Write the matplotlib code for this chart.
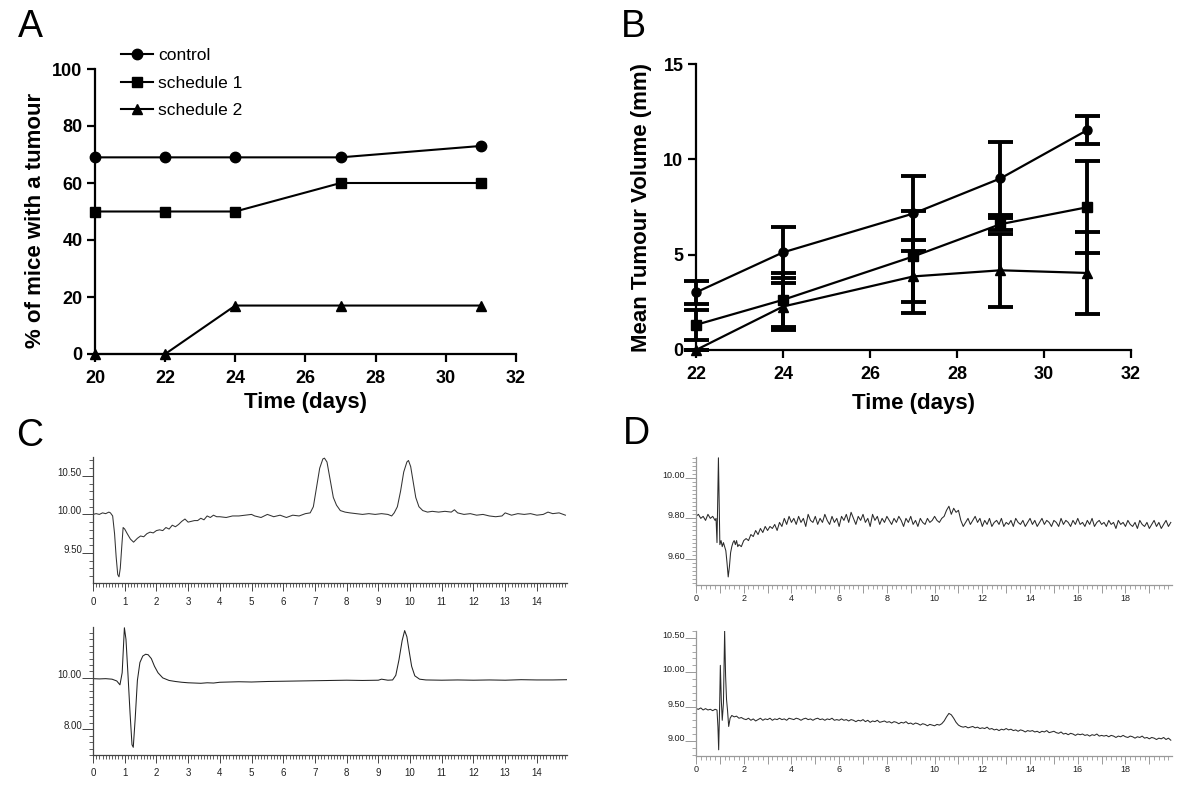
import numpy as np
import matplotlib
matplotlib.use('Agg')
import matplotlib.pyplot as plt
from matplotlib.ticker import MultipleLocator, FormatStrFormatter

plt.rcParams['font.family'] = ['Liberation Sans', 'DejaVu Sans']

# ---- panel A: % of mice with a tumour
days_a = [20, 22, 24, 27, 31]
control = [69, 69, 69, 69, 73]
schedule1 = [50, 50, 50, 60, 60]
schedule2 = [0, 0, 17, 17, 17]

# ---- panel B: mean tumour volume with error bars
days_b = [22, 24, 27, 29, 31]
vol_control = [3.02, 5.12, 7.16, 9.00, 11.54]
err_control = [0.61, 1.32, 1.96, 1.93, 0.71]
vol_s1 = [1.32, 2.63, 4.91, 6.60, 7.49]
err_s1 = [0.80, 1.40, 2.40, 0.30, 2.40]
vol_s2 = [0.00, 2.28, 3.86, 4.18, 4.04]
err_s2 = [0.00, 1.22, 1.90, 1.90, 2.17]

# ---- panel C: chromatograms (time in min, signal)
c1_t = [0.0, 0.1, 0.2, 0.3, 0.4, 0.5, 0.55, 0.62, 0.68, 0.73, 0.78, 0.82, 0.86, 0.91, 0.95,
        1.0, 1.08, 1.18, 1.28, 1.4, 1.5, 1.6, 1.7, 1.8, 1.9, 2.0, 2.1, 2.2, 2.3, 2.4, 2.5,
        2.6, 2.7, 2.8, 2.9, 3.0, 3.1, 3.2, 3.3, 3.4, 3.5, 3.6, 3.7, 3.8, 3.9, 4.0, 4.2, 4.4,
        4.6, 4.8, 5.0, 5.1, 5.3, 5.5, 5.7, 5.9, 6.1, 6.3, 6.5, 6.7, 6.85, 6.95, 7.05, 7.15,
        7.25, 7.3, 7.38, 7.48, 7.58, 7.68, 7.8, 7.95, 8.1, 8.3, 8.5, 8.7, 8.9, 9.1, 9.3, 9.42,
        9.5, 9.6, 9.7, 9.8, 9.9, 9.95, 10.02, 10.1, 10.18, 10.28, 10.4, 10.55, 10.7, 10.9,
        11.1, 11.3, 11.4, 11.5, 11.7, 11.9, 12.1, 12.3, 12.5, 12.7, 12.9, 13.0, 13.2, 13.4,
        13.6, 13.8, 14.0, 14.2, 14.35, 14.5, 14.7, 14.9]
c1_y = [10.00, 10.01, 10.00, 10.02, 10.01, 10.03, 10.02, 9.98, 9.75, 9.45, 9.22, 9.19, 9.30,
        9.60, 9.83, 9.81, 9.75, 9.68, 9.64, 9.69, 9.72, 9.71, 9.75, 9.77, 9.76, 9.79, 9.80,
        9.79, 9.83, 9.81, 9.86, 9.84, 9.87, 9.91, 9.94, 9.90, 9.91, 9.92, 9.92, 9.95, 9.93,
        9.98, 9.96, 9.99, 9.97, 9.97, 9.96, 9.98, 9.98, 9.99, 10.00, 9.98, 9.96, 10.00, 9.97,
        9.99, 9.96, 9.99, 9.98, 10.01, 10.02, 10.10, 10.35, 10.60, 10.72, 10.73, 10.68, 10.45,
        10.22, 10.12, 10.05, 10.03, 10.02, 10.01, 10.00, 10.01, 10.00, 10.01, 10.00, 9.98,
        10.02, 10.10, 10.30, 10.55, 10.68, 10.70, 10.62, 10.42, 10.22, 10.10, 10.05, 10.03,
        10.04, 10.03, 10.04, 10.03, 10.06, 10.02, 10.00, 10.01, 9.99, 10.00, 9.98, 9.97, 9.98,
        10.02, 9.99, 10.01, 10.00, 10.01, 9.99, 10.00, 10.03, 10.01, 10.02, 9.99]

c2_t = [0.0, 0.2, 0.4, 0.6, 0.75, 0.85, 0.92, 0.96, 0.99, 1.04, 1.1, 1.17, 1.23, 1.27, 1.33,
        1.4, 1.48, 1.57, 1.66, 1.74, 1.84, 1.94, 2.05, 2.2, 2.4, 2.6, 2.8, 3.0, 3.2, 3.4, 3.6,
        3.8, 4.0, 4.3, 4.6, 5.0, 5.5, 6.0, 6.5, 7.0, 7.5, 8.0, 8.5, 9.0, 9.1, 9.3, 9.45, 9.55,
        9.65, 9.75, 9.83, 9.9, 9.97, 10.05, 10.15, 10.3, 10.5, 11.0, 11.5, 12.0, 12.5, 13.0,
        13.5, 14.0, 14.5, 14.95]
c2_y = [9.97, 9.96, 9.97, 9.95, 9.88, 9.73, 10.2, 11.2, 11.95, 11.5, 10.2, 8.6, 7.4, 7.3, 8.4,
        9.9, 10.6, 10.85, 10.92, 10.9, 10.75, 10.45, 10.2, 10.0, 9.9, 9.86, 9.83, 9.81, 9.80,
        9.79, 9.81, 9.80, 9.83, 9.84, 9.85, 9.84, 9.86, 9.87, 9.88, 9.89, 9.90, 9.91, 9.90,
        9.91, 9.95, 9.91, 9.92, 10.1, 10.7, 11.45, 11.84, 11.6, 11.05, 10.45, 10.08, 9.95,
        9.92, 9.91, 9.92, 9.91, 9.92, 9.91, 9.93, 9.92, 9.92, 9.93]

# ---- panel D: chromatograms, sharp solvent front then noisy baseline
d1_t = [0.0, 0.1, 0.2, 0.3, 0.4, 0.5, 0.6, 0.7, 0.8, 0.84, 0.88, 0.94, 0.97, 1.0, 1.05, 1.1,
        1.15, 1.2, 1.25, 1.3, 1.35, 1.4, 1.45, 1.5, 1.55, 1.6, 1.65, 1.7, 1.75, 1.8, 1.9, 2.0,
        2.1, 2.2, 2.3, 2.4, 2.5, 2.6, 2.7, 2.8, 2.9, 3.0, 3.1, 3.2, 3.3, 3.4, 3.5, 3.6, 3.7,
        3.8, 3.9, 4.0]
d1_y = [9.81, 9.82, 9.80, 9.81, 9.79, 9.82, 9.80, 9.81, 9.79, 9.80, 9.68, 10.10, 9.90, 9.67,
        9.69, 9.66, 9.68, 9.66, 9.64, 9.58, 9.51, 9.56, 9.63, 9.66, 9.68, 9.69, 9.67, 9.69,
        9.66, 9.67, 9.66, 9.69, 9.70, 9.69, 9.72, 9.71, 9.74, 9.72, 9.75, 9.73, 9.76, 9.74,
        9.76, 9.75, 9.77, 9.74, 9.78, 9.76, 9.80, 9.77, 9.81, 9.78]
# 4.1 min onwards, every 0.1 min
d1_tail = [9.80, 9.77, 9.81, 9.78, 9.80, 9.76, 9.82, 9.79, 9.78, 9.81,
           9.77, 9.80, 9.78, 9.82, 9.79, 9.77, 9.81, 9.78, 9.80, 9.76,
           9.81, 9.79, 9.82, 9.78, 9.83, 9.80, 9.77, 9.81, 9.79, 9.82,
           9.78, 9.80, 9.76, 9.82, 9.79, 9.81, 9.77, 9.80, 9.78, 9.81,
           9.79, 9.77, 9.80, 9.78, 9.81, 9.79, 9.76, 9.80, 9.78, 9.81,
           9.77, 9.79, 9.76, 9.80, 9.78, 9.77, 9.80, 9.78, 9.79, 9.81,
           9.79, 9.78, 9.80, 9.81, 9.84, 9.86, 9.82, 9.85, 9.83, 9.84,
           9.79, 9.76, 9.78, 9.80, 9.77, 9.79, 9.81, 9.78, 9.80, 9.76,
           9.79, 9.77, 9.80, 9.76, 9.78, 9.79, 9.77, 9.80, 9.76, 9.78,
           9.77, 9.79, 9.76, 9.80, 9.78, 9.77, 9.79, 9.76, 9.78, 9.80,
           9.77, 9.79, 9.76, 9.78, 9.80, 9.77, 9.79, 9.78, 9.76, 9.79,
           9.78, 9.76, 9.80, 9.77, 9.79, 9.78, 9.76, 9.79, 9.77, 9.80,
           9.77, 9.78, 9.76, 9.79, 9.77, 9.80, 9.76, 9.78, 9.79, 9.77,
           9.78, 9.76, 9.79, 9.77, 9.78, 9.75, 9.79, 9.77, 9.78, 9.76,
           9.79, 9.77, 9.76, 9.78, 9.75, 9.79, 9.77, 9.76, 9.78, 9.75,
           9.77, 9.79, 9.76, 9.78, 9.75, 9.77, 9.79, 9.76, 9.78]

d2_t = [0.0, 0.1, 0.2, 0.3, 0.4, 0.5, 0.6, 0.7, 0.8, 0.88, 0.92, 0.95, 0.99, 1.02, 1.06, 1.1,
        1.15, 1.2, 1.24, 1.28, 1.32, 1.37, 1.43, 1.5, 1.6, 1.7, 1.8, 1.9, 2.0]
d2_y = [9.47, 9.46, 9.48, 9.45, 9.47, 9.45, 9.46, 9.44, 9.46, 9.45, 9.20, 8.87, 9.50, 10.10,
        9.60, 9.30, 9.55, 10.60, 9.95, 9.60, 9.45, 9.21, 9.33, 9.37, 9.35, 9.36, 9.33, 9.34,
        9.32]
# 2.1 min onwards, every 0.1 min
d2_tail = [9.31, 9.33, 9.30, 9.32, 9.29, 9.31, 9.33, 9.30, 9.32, 9.31,
           9.33, 9.30, 9.32, 9.31, 9.33, 9.31, 9.32, 9.30, 9.33, 9.32,
           9.31, 9.33, 9.32, 9.30, 9.32, 9.33, 9.31, 9.32, 9.30, 9.32,
           9.33, 9.31, 9.32, 9.30, 9.32, 9.31, 9.33, 9.30, 9.31, 9.30,
           9.32, 9.30, 9.31, 9.29, 9.31, 9.30, 9.28, 9.30, 9.29, 9.31,
           9.28, 9.30, 9.27, 9.29, 9.28, 9.30, 9.27, 9.28, 9.29, 9.27,
           9.28, 9.26, 9.28, 9.27, 9.25, 9.27, 9.26, 9.28, 9.25, 9.26,
           9.24, 9.26, 9.25, 9.23, 9.25, 9.24, 9.22, 9.24, 9.23, 9.22,
           9.24, 9.23, 9.25, 9.29, 9.35, 9.40, 9.38, 9.33, 9.27, 9.23,
           9.21, 9.20, 9.21, 9.19, 9.20, 9.21, 9.19, 9.20, 9.18, 9.19,
           9.18, 9.20, 9.17, 9.18, 9.16, 9.17, 9.15, 9.17, 9.16, 9.18,
           9.16, 9.17, 9.15, 9.16, 9.14, 9.16, 9.15, 9.13, 9.15, 9.14,
           9.15, 9.13, 9.14, 9.12, 9.14, 9.13, 9.15, 9.12, 9.13, 9.14,
           9.12, 9.11, 9.13, 9.10, 9.11, 9.09, 9.11, 9.10, 9.08, 9.10,
           9.09, 9.10, 9.08, 9.09, 9.07, 9.09, 9.08, 9.10, 9.07, 9.08,
           9.07, 9.08, 9.06, 9.08, 9.07, 9.05, 9.07, 9.06, 9.08, 9.06,
           9.05, 9.07, 9.06, 9.04, 9.06, 9.05, 9.07, 9.04, 9.05, 9.03,
           9.05, 9.04, 9.02, 9.04, 9.03, 9.05, 9.02, 9.04, 9.01]

W, H = 1200, 794
fig = plt.figure(figsize=(12, 7.94), dpi=100)


def rect(left, top, right, bottom):
    # pixel box -> figure fraction
    return [left / W, 1 - bottom / H, (right - left) / W, (bottom - top) / H]


def bold_axes(ax):
    for s in ['top', 'right']:
        ax.spines[s].set_visible(False)
    for s in ['left', 'bottom']:
        ax.spines[s].set_linewidth(1.6)
    ax.tick_params(direction='out', length=5.5, width=1.6, labelsize=13)
    ax.tick_params(axis='x', pad=6)
    ax.tick_params(axis='y', pad=3.5)
    for lbl in ax.get_xticklabels() + ax.get_yticklabels():
        lbl.set_fontweight('bold')


# ---------------- A
axA = fig.add_axes(rect(95, 69, 516, 354))
axA.plot(days_a, control, '-o', color='black', lw=1.5, ms=7.5, label='control', clip_on=False)
axA.plot(days_a, schedule1, '-s', color='black', lw=1.5, ms=7.5, label='schedule 1', clip_on=False)
axA.plot(days_a, schedule2, '-^', color='black', lw=1.5, ms=7.5, label='schedule 2', clip_on=False)
axA.set_xlim(20, 32)
axA.set_ylim(0, 100)
axA.set_xticks([20, 22, 24, 26, 28, 30, 32])
axA.set_yticks([0, 20, 40, 60, 80, 100])
bold_axes(axA)
axA.set_xlabel('Time (days)', fontsize=16, fontweight='bold')
axA.set_ylabel('% of mice with a tumour', fontsize=16, fontweight='bold')
axA.xaxis.set_label_coords(0.5, -0.135)
axA.yaxis.set_label_coords(-0.116, 0.47)
axA.legend(loc='upper left', bbox_to_anchor=(121 / W, 1 - 48 / H), bbox_transform=fig.transFigure,
           frameon=False, fontsize=12.5, handlelength=1.85, handletextpad=0.3, labelspacing=0.72,
           borderpad=0, borderaxespad=0)

# ---------------- B
axB = fig.add_axes(rect(696, 64, 1131, 350))
for vals, errs, mk in [(vol_control, err_control, 'o'), (vol_s1, err_s1, 's'), (vol_s2, err_s2, '^')]:
    axB.errorbar(days_b, vals, yerr=errs, fmt='-' + mk, color='black', lw=1.6, ms=6.5,
                 elinewidth=2.8, capsize=9, capthick=2.8, clip_on=False)
axB.set_xlim(22, 32)
axB.set_ylim(0, 15)
axB.set_xticks([22, 24, 26, 28, 30, 32])
axB.set_yticks([0, 5, 10, 15])
bold_axes(axB)
axB.set_xlabel('Time (days)', fontsize=16, fontweight='bold')
axB.set_ylabel('Mean Tumour Volume (mm)', fontsize=16, fontweight='bold')
axB.xaxis.set_label_coords(0.5, -0.15)
axB.yaxis.set_label_coords(-0.102, 0.5)


# ---------------- C and D chromatograms
def chrom_axes(box, t, y, xlim, ylim, xmaj, xmin, xlab_step, ymaj, ymin, tick_col, line_col, fs, xpad):
    ax = fig.add_axes(rect(*box))
    ax.plot(t, y, color=line_col, lw=0.75)
    ax.set_xlim(*xlim)
    ax.set_ylim(*ylim)
    for s in ['top', 'right']:
        ax.spines[s].set_visible(False)
    for s in ['left', 'bottom']:
        ax.spines[s].set_linewidth(0.9)
        ax.spines[s].set_color(tick_col)
    ax.xaxis.set_major_locator(MultipleLocator(xmaj))
    ax.xaxis.set_minor_locator(MultipleLocator(xmin))
    ax.yaxis.set_major_locator(MultipleLocator(ymaj))
    ax.yaxis.set_minor_locator(MultipleLocator(ymin))
    ax.xaxis.set_major_formatter(
        plt.FuncFormatter(lambda v, p: '%d' % round(v) if round(v) % xlab_step == 0 else ''))
    ax.yaxis.set_major_formatter(FormatStrFormatter('%.2f'))
    ax.tick_params(axis='x', which='major', direction='out', length=5.5, width=0.7,
                   color=tick_col, labelsize=fs, labelcolor='#222222', pad=xpad)
    ax.tick_params(axis='x', which='minor', direction='out', length=3, width=0.6, color=tick_col)
    ax.tick_params(axis='y', which='major', direction='out', length=8, width=0.7,
                   color=tick_col, labelsize=fs, labelcolor='#222222', pad=0)
    ax.tick_params(axis='y', which='minor', direction='out', length=3, width=0.6, color=tick_col)
    plt.setp(ax.get_yticklabels(), va='baseline')
    return ax


chrom_axes((93, 457, 567, 583), c1_t, c1_y, (0, 14.95), (9.11, 10.745), 1, 0.1, 1,
           0.5, 0.1, '#444444', '#333333', 7, 4.5)
chrom_axes((93, 627, 567, 755), c2_t, c2_y, (0, 14.95), (7.0, 11.98), 1, 0.1, 1,
           2.0, 0.25, '#444444', '#222222', 7, 3.5)

d1_all_t = d1_t + [round(4.1 + 0.1 * i, 1) for i in range(len(d1_tail))]
d2_all_t = d2_t + [round(2.1 + 0.1 * i, 1) for i in range(len(d2_tail))]
chrom_axes((696, 457, 1172, 585), d1_all_t, d1_y + d1_tail, (0, 19.95), (9.47, 10.104), 1, 0.2, 2,
           0.2, 0.02, '#999999', '#2a2a2a', 6.5, 1.0)
chrom_axes((696, 631, 1172, 756), d2_all_t, d2_y + d2_tail, (0, 19.95), (8.78, 10.60), 1, 0.2, 2,
           0.5, 0.1, '#999999', '#2a2a2a', 6.5, 1.0)

# panel letters
for letter, x, y in [('A', 30, 27), ('B', 633, 27), ('C', 30, 436), ('D', 636, 434)]:
    fig.text(x / W, 1 - y / H, letter, fontsize=27, ha='center', va='center')

fig.savefig('out.png', dpi=100)
